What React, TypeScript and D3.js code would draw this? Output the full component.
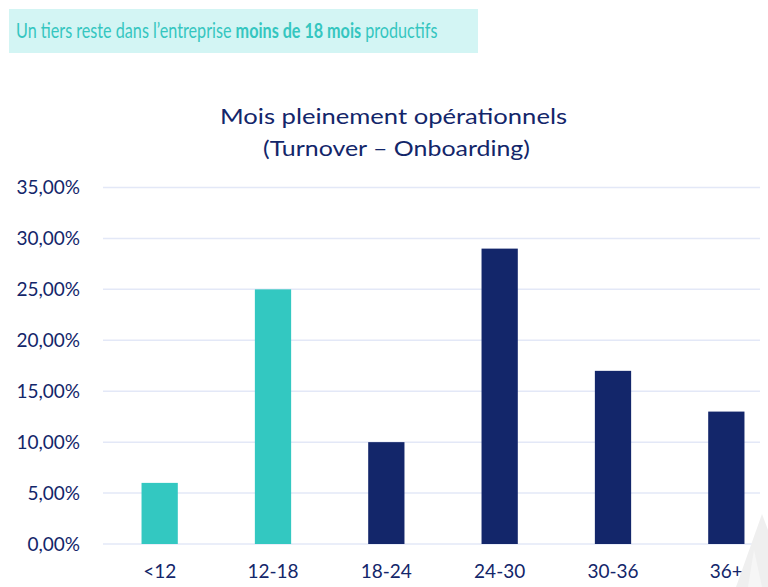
import React from "react";
import * as d3 from "d3";

const categories = ["<12", "12-18", "18-24", "24-30", "30-36", "36+"];
const values = [0.06, 0.25, 0.10, 0.29, 0.17, 0.13];
const highlighted = [true, true, false, false, false, false];
const yTicks = [0, 0.05, 0.1, 0.15, 0.2, 0.25, 0.3, 0.35];

const W = 768;
const H = 587;
const FONT = "Lato, 'Open Sans', sans-serif";
const NAVY = "#13266A";
const TEAL = "#33C8C1";

export default function App() {
  const x = d3
    .scaleBand<string>()
    .domain(categories)
    .range([103, 783])
    .paddingInner(0.68)
    .paddingOuter(0.34);
  const y = d3.scaleLinear().domain([0, 0.35]).range([544, 187.5]);
  const fmt = (v: number) => (v * 100).toFixed(2).replace(".", ",") + "%";

  return (
    <svg width={W} height={H} style={{ position: "absolute", left: 0, top: 0, background: "#fff" }}>
      <rect x={9} y={9} width={469} height={44} fill="#D3F5F4" />
      <g transform="translate(16,38) scale(0.77,1)">
        <text x={0} y={0} fontFamily={FONT} fontSize={21} fill="#35C6C0">
          Un tiers reste dans l’entreprise <tspan fontWeight="bold">moins de 18 mois</tspan> productifs
        </text>
      </g>

      <text
        x={220}
        y={124}
        fontFamily={FONT}
        fontSize={22}
        fill={NAVY}
        textLength={347}
        lengthAdjust="spacingAndGlyphs"
      >
        Mois pleinement opérationnels
      </text>
      <text
        x={263}
        y={156}
        fontFamily={FONT}
        fontSize={22}
        fill={NAVY}
        textLength={267}
        lengthAdjust="spacingAndGlyphs"
      >
        (Turnover – Onboarding)
      </text>

      {yTicks.map((t) => (
        <g key={t}>
          <line x1={103} x2={760} y1={y(t)} y2={y(t)} stroke="#E3E8F7" strokeWidth={1.5} />
          <text x={80} y={y(t)} dy="0.36em" textAnchor="end" fontFamily={FONT} fontSize={19} fill={NAVY}>
            {fmt(t)}
          </text>
        </g>
      ))}

      {categories.map((c, i) => (
        <g key={c}>
          <rect
            x={x(c)!}
            y={y(values[i])}
            width={x.bandwidth()}
            height={y(0) - y(values[i])}
            fill={highlighted[i] ? TEAL : NAVY}
          />
          <text
            x={x(c)! + x.bandwidth() / 2}
            y={578}
            textAnchor="middle"
            fontFamily={FONT}
            fontSize={19}
            fill={NAVY}
          >
            {c}
          </text>
        </g>
      ))}

      <polygon points="736,587 762,514 768,530 768,587" fill="#EFEFEF" />
      <polygon points="748,587 754,550 762,587" fill="#F6F6F6" />
    </svg>
  );
}
